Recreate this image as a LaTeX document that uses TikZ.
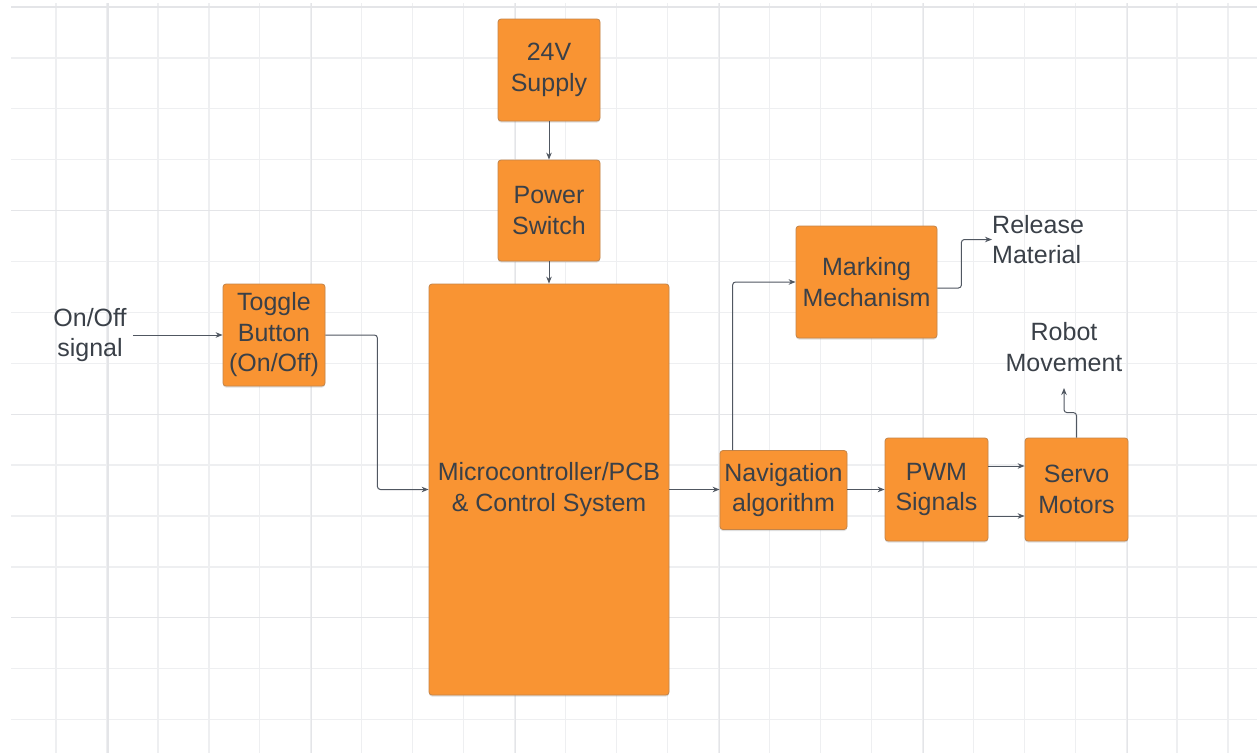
\documentclass[tikz,border=0pt]{standalone}
\usepackage{fontspec}
\setmainfont{Liberation Sans}
\usetikzlibrary{arrows.meta,shadows}
\definecolor{boxfill}{RGB}{249,148,51}
\definecolor{boxline}{RGB}{196,132,72}
\definecolor{txt}{RGB}{58,64,72}
\definecolor{wire}{RGB}{80,87,97}
\definecolor{gridl}{RGB}{238,239,241}
\definecolor{gridd}{RGB}{228,229,232}
\begin{document}
\begin{tikzpicture}[x=1pt,y=-1pt,
 box/.style={draw=boxline, line width=0.8pt, fill=boxfill, rounded corners=3pt, inner sep=0pt, align=center, text=txt, font=\fontsize{25}{30.5}\selectfont, drop shadow={shadow xshift=0pt, shadow yshift=-1.5pt, opacity=0.25}},
 lbl/.style={inner sep=0pt, text=txt, font=\fontsize{25}{30.5}\selectfont},
 arr/.style={draw=wire, line width=1pt, -{Stealth[length=7pt,width=5.5pt]}, rounded corners=3pt},
]
\useasboundingbox[fill=white] (0,0) rectangle (1257,753);
% grid
\foreach \k in {0,...,23} {
  \pgfmathsetmacro\xx{56+50.96*\k}
  \draw[gridl, line width=1.3pt] (\xx,3) -- (\xx,753);
}
\foreach \k in {0,...,14} {
  \pgfmathsetmacro\yy{7+50.9*\k}
  \draw[gridl, line width=1.3pt] (11,\yy) -- (1257,\yy);
}
\foreach \k in {0,...,5} {
  \pgfmathsetmacro\xx{107.96+203.84*\k}
  \draw[gridd, line width=1.3pt] (\xx,3) -- (\xx,753);
}
\foreach \k in {0,...,3} {
  \pgfmathsetmacro\yy{7+203.6*\k}
  \draw[gridd, line width=1.3pt] (11,\yy) -- (1257,\yy);
}
% boxes
\node[box, minimum width=102pt, minimum height=102pt] (supply) at (549,70) {24V\\Supply};
\node[box, minimum width=102pt, minimum height=101pt] (power) at (549,210.5) {Power\\Switch};
\node[box, minimum width=102pt, minimum height=102pt] (toggle) at (274,335) {Toggle\\Button\\(On/Off)};
\node[box, minimum width=240pt, minimum height=411pt] (micro) at (549,489.5) {Microcontroller/PCB\\\& Control System};
\node[box, minimum width=141pt, minimum height=112pt] (marking) at (866.5,282) {Marking\\Mechanism};
\node[box, minimum width=127pt, minimum height=79pt] (nav) at (783.5,490) {Navigation\\algorithm};
\node[box, minimum width=103pt, minimum height=103pt] (pwm) at (936.5,489.5) {PWM\\Signals};
\node[box, minimum width=103pt, minimum height=103pt] (servo) at (1076.5,489.5) {Servo\\Motors};
% labels
\node[lbl, align=center] (onoff) at (90,335) {On/Off\\signal};
\node[lbl, align=left, anchor=west] (release) at (992,239.5) {Release\\Material};
\node[lbl, align=center] (robot) at (1064,347) {Robot\\Movement};
\coordinate (robtip) at (1064,388);
% connectors
\draw[arr] (supply.south) -- (power.north);
\draw[arr] (power.south) -- (micro.north);
\draw[arr] ([xshift=6pt]onoff.east |- toggle.west) -- (toggle.west);
\draw[arr] (toggle.east) -- ++(52,0) |- (micro.west);
\draw[arr, line width=1.4pt] (micro.east) -- (nav.west |- micro.east);
\draw[arr] ([xshift=13pt]nav.north west) |- (marking.west);
\draw[arr] ([yshift=-6pt]marking.east) -- ++(24,0) |- (release.west);
\draw[arr] (nav.east |- pwm.west) -- (pwm.west);
\draw[arr] ([yshift=23.5pt]pwm.east) -- ([yshift=23.5pt]servo.west);
\draw[arr] ([yshift=-26.5pt]pwm.east) -- ([yshift=-26.5pt]servo.west);
\draw[arr] (servo.north) -- ++(0,-25) -| (robtip);
\end{tikzpicture}
\end{document}
